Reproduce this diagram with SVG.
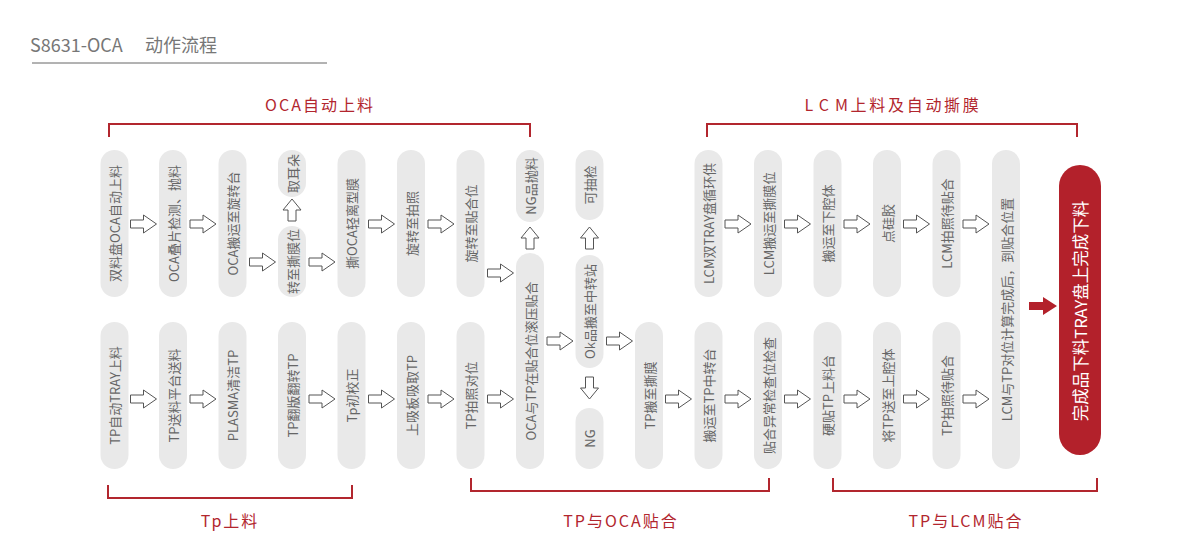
<svg xmlns="http://www.w3.org/2000/svg" xmlns:xlink="http://www.w3.org/1999/xlink" width="1200" height="544" viewBox="0 0 1200 544">
<style>
text{font-family:"Noto Sans CJK SC","Noto Sans",sans-serif;}
.pill{fill:#e9e9e9;}
.pt{font-size:13px;fill:#666;text-anchor:middle;dominant-baseline:central;}
.arr{fill:#fff;stroke:#555;stroke-width:1;stroke-linejoin:miter;}
.br{fill:none;stroke:#b2262e;stroke-width:2;}
.lbl{font-size:16px;fill:#b2262e;text-anchor:middle;letter-spacing:2px;}
.title{font-size:18px;fill:#777;}
</style>
<defs>
<path id="ha" d="M0,-4H13V-9L26,0L13,9V4H0Z"/>
<path id="va" d="M-4,0V-11H-9L0,-22L9,-11H4V0Z"/>
</defs>
<rect width="1200" height="544" fill="#fff"/>
<g id="title">
<text class="title" x="30" y="52">S8631-OCA<tspan x="145">动作流程</tspan></text>
<line x1="32" y1="63" x2="327" y2="63" stroke="#666" stroke-width="1"/>
</g>
<g id="brackets">
<path class="br" d="M109,137V124H530V137"/>
<text class="lbl" x="320" y="111">OCA自动上料</text>
<path class="br" d="M707,137V124H1077V137"/>
<text class="lbl" x="893" y="111"><tspan letter-spacing="6px">LC</tspan><tspan letter-spacing="2.7px">M上料及自动撕膜</tspan></text>
<path class="br" d="M108,485V498H352V485"/>
<text class="lbl" x="230" y="527">Tp上料</text>
<path class="br" d="M471,478V491H769V478"/>
<text class="lbl" x="621" y="527">TP与OCA贴合</text>
<path class="br" d="M833,478V491H1097V478"/>
<text class="lbl" x="966" y="527">TP与LCM贴合</text>
</g>
<g id="n1"><rect class="pill" x="100.5" y="150" width="28" height="147" rx="14"/><text class="pt" transform="translate(114.5,223.5) rotate(-90)">双料盘OCA自动上料</text></g>
<g id="n2"><rect class="pill" x="159" y="150" width="28" height="147" rx="14"/><text class="pt" transform="translate(173,223.5) rotate(-90)">OCA叠片检测、抛料</text></g>
<g id="n3"><rect class="pill" x="218.5" y="150" width="28" height="147" rx="14"/><text class="pt" transform="translate(232.5,223.5) rotate(-90)">OCA搬运至旋转台</text></g>
<g id="n4a"><rect class="pill" x="278" y="150" width="28" height="47" rx="14"/><text class="pt" transform="translate(292,173.5) rotate(-90)">取耳朵</text></g>
<g id="n4b"><rect class="pill" x="278" y="226" width="28" height="71" rx="14"/><text class="pt" transform="translate(292,261.5) rotate(-90)">转至撕膜位</text></g>
<g id="n5"><rect class="pill" x="337.5" y="150" width="28" height="147" rx="14"/><text class="pt" transform="translate(351.5,223.5) rotate(-90)">撕OCA轻离型膜</text></g>
<g id="n6"><rect class="pill" x="397" y="150" width="28" height="147" rx="14"/><text class="pt" transform="translate(411,223.5) rotate(-90)">旋转至拍照</text></g>
<g id="n7"><rect class="pill" x="456.5" y="150" width="28" height="147" rx="14"/><text class="pt" transform="translate(470.5,223.5) rotate(-90)">旋转至贴合位</text></g>
<g id="n8a"><rect class="pill" x="516" y="150" width="28" height="72" rx="14"/><text class="pt" transform="translate(530,186) rotate(-90)">NG品抛料</text></g>
<g id="n8b"><rect class="pill" x="516" y="253" width="28" height="216" rx="14"/><text class="pt" transform="translate(530,361) rotate(-90)">OCA与TP在贴合位滚压贴合</text></g>
<g id="n9a"><rect class="pill" x="575.5" y="150" width="28" height="70" rx="14"/><text class="pt" transform="translate(589.5,185) rotate(-90)">可抽检</text></g>
<g id="n9b"><rect class="pill" x="575.5" y="255" width="28" height="113" rx="14"/><text class="pt" transform="translate(589.5,311.5) rotate(-90)">Ok品搬至中转站</text></g>
<g id="n9c"><rect class="pill" x="575.5" y="408" width="28" height="61" rx="14"/><text class="pt" transform="translate(589.5,438.5) rotate(-90)">NG</text></g>
<g id="n11"><rect class="pill" x="694.5" y="150" width="28" height="147" rx="14"/><text class="pt" transform="translate(708.5,223.5) rotate(-90)">LCM双TRAY盘循环供</text></g>
<g id="n12"><rect class="pill" x="754" y="150" width="28" height="147" rx="14"/><text class="pt" transform="translate(768,223.5) rotate(-90)">LCM搬运至撕膜位</text></g>
<g id="n13"><rect class="pill" x="813.5" y="150" width="28" height="147" rx="14"/><text class="pt" transform="translate(827.5,223.5) rotate(-90)">搬运至下腔体</text></g>
<g id="n14"><rect class="pill" x="873" y="150" width="28" height="147" rx="14"/><text class="pt" transform="translate(887,223.5) rotate(-90)">点硅胶</text></g>
<g id="n15"><rect class="pill" x="932.5" y="150" width="28" height="147" rx="14"/><text class="pt" transform="translate(946.5,223.5) rotate(-90)">LCM拍照待贴合</text></g>
<g id="n16"><rect class="pill" x="992" y="150" width="28" height="319" rx="14"/><text class="pt" transform="translate(1006,309.5) rotate(-90)">LCM与TP对位计算完成后，到贴合位置</text></g>
<g id="nred"><rect x="1059" y="165" width="42" height="290" rx="21" fill="#b3212b"/><text transform="translate(1080,311) rotate(-90)" font-size="16.5" fill="#fff" text-anchor="middle" dominant-baseline="central">完成品下料TRAY盘上完成下料</text></g>
<g id="b1"><rect class="pill" x="100.5" y="322" width="28" height="147" rx="14"/><text class="pt" transform="translate(114.5,395.5) rotate(-90)">TP自动TRAY上料</text></g>
<g id="b2"><rect class="pill" x="159" y="322" width="28" height="147" rx="14"/><text class="pt" transform="translate(173,395.5) rotate(-90)">TP送料平台送料</text></g>
<g id="b3"><rect class="pill" x="218.5" y="322" width="28" height="147" rx="14"/><text class="pt" transform="translate(232.5,395.5) rotate(-90)">PLASMA清洁TP</text></g>
<g id="b4"><rect class="pill" x="278" y="322" width="28" height="147" rx="14"/><text class="pt" transform="translate(292,395.5) rotate(-90)">TP翻版翻转TP</text></g>
<g id="b5"><rect class="pill" x="337.5" y="322" width="28" height="147" rx="14"/><text class="pt" transform="translate(351.5,395.5) rotate(-90)">Tp初校正</text></g>
<g id="b6"><rect class="pill" x="397" y="322" width="28" height="147" rx="14"/><text class="pt" transform="translate(411,395.5) rotate(-90)">上吸板吸取TP</text></g>
<g id="b7"><rect class="pill" x="456.5" y="322" width="28" height="147" rx="14"/><text class="pt" transform="translate(470.5,395.5) rotate(-90)">TP拍照对位</text></g>
<g id="b10"><rect class="pill" x="635" y="322" width="28" height="147" rx="14"/><text class="pt" transform="translate(649,395.5) rotate(-90)">TP搬至撕膜</text></g>
<g id="b11"><rect class="pill" x="694.5" y="322" width="28" height="147" rx="14"/><text class="pt" transform="translate(708.5,395.5) rotate(-90)">搬运至TP中转台</text></g>
<g id="b12"><rect class="pill" x="754" y="322" width="28" height="147" rx="14"/><text class="pt" transform="translate(768,395.5) rotate(-90)">贴合异常检查位检查</text></g>
<g id="b13"><rect class="pill" x="813.5" y="322" width="28" height="147" rx="14"/><text class="pt" transform="translate(827.5,395.5) rotate(-90)">硬贴TP上料台</text></g>
<g id="b14"><rect class="pill" x="873" y="322" width="28" height="147" rx="14"/><text class="pt" transform="translate(887,395.5) rotate(-90)">将TP送至上腔体</text></g>
<g id="b15"><rect class="pill" x="932.5" y="322" width="28" height="147" rx="14"/><text class="pt" transform="translate(946.5,395.5) rotate(-90)">TP拍照待贴合</text></g>
<g id="connectors">
<use href="#ha" class="arr" x="130.5" y="224"/>
<use href="#ha" class="arr" x="190" y="224"/>
<use href="#ha" class="arr" x="249.5" y="262"/>
<use href="#ha" class="arr" x="309" y="262"/>
<use href="#ha" class="arr" x="368.5" y="224"/>
<use href="#ha" class="arr" x="428" y="224"/>
<use href="#ha" class="arr" x="487.5" y="273"/>
<use href="#va" class="arr" x="292" y="221"/>
<use href="#va" class="arr" x="530" y="249"/>
<use href="#va" class="arr" x="589.5" y="249"/>
<use href="#va" class="arr" transform="translate(589.5,377) rotate(180)"/>
<use href="#ha" class="arr" x="725" y="224"/>
<use href="#ha" class="arr" x="784.5" y="224"/>
<use href="#ha" class="arr" x="844" y="224"/>
<use href="#ha" class="arr" x="903.5" y="224"/>
<use href="#ha" class="arr" x="963" y="224"/>
<use href="#ha" class="arr" x="130.5" y="399"/>
<use href="#ha" class="arr" x="190" y="399"/>
<use href="#ha" class="arr" x="309" y="399"/>
<use href="#ha" class="arr" x="368.5" y="399"/>
<use href="#ha" class="arr" x="428" y="399"/>
<use href="#ha" class="arr" x="487.5" y="399"/>
<use href="#ha" class="arr" x="547" y="341"/>
<use href="#ha" class="arr" x="606.5" y="341"/>
<use href="#ha" class="arr" x="665.5" y="399"/>
<use href="#ha" class="arr" x="725" y="399"/>
<use href="#ha" class="arr" x="784.5" y="399"/>
<use href="#ha" class="arr" x="844" y="399"/>
<use href="#ha" class="arr" x="903.5" y="399"/>
<use href="#ha" class="arr" x="963" y="399"/>
<path d="M1029,302H1043V297L1057,306L1043,315V310H1029Z" fill="#b3212b"/>
</g>
</svg>
